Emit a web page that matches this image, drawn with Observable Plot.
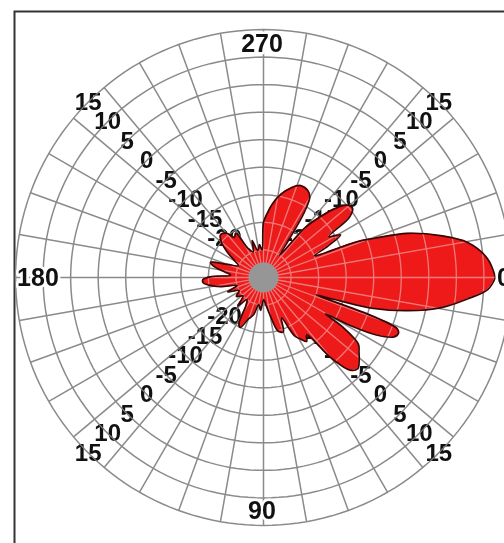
<!DOCTYPE html>
<html><head><meta charset="utf-8">
<script src="https://cdn.jsdelivr.net/npm/d3@7"></script>
<script src="https://cdn.jsdelivr.net/npm/@observablehq/plot@0.6"></script>
<style>
html,body{margin:0;padding:0;background:#fff;overflow:hidden;}
#chart svg{overflow:hidden !important;}
</style></head><body><div id="chart"></div>
<script>
// ---- data ----
const ringLevels = [-25, -20, -15, -10, -5, 0, 5, 10, 15];      // dB grid rings
const labelLevels = [-20, -15, -10, -5, 0, 5, 10, 15];          // dB tick labels
const labelText = ["-20", "-15", "-10", "-5", "0", "5", "10", "15"];
const labelAngles = [45, 135, 225, 315];                        // diagonals carrying dB labels
const spokeAngles = d3.range(0, 360, 10);                       // angular grid, every 10°
const cardinalAngles = [0, 90, 180, 270];
const cardinalText = ["0", "90", "180", "270"];
const floorDb = -30;                                            // dB at the centre
const outerDb = 15;

// radiation pattern (angle in degrees, clockwise from east; gain in dB)
const patternAngles = [0, 3, 6, 9.6, 12.9, 15.7, 17, 18.2, 19.5, 21, 22.5, 24.5, 27, 29, 30.5, 32, 35, 38, 41, 44, 47, 50, 53, 56, 59, 62, 66, 70, 75, 80, 85, 90, 95, 100, 105, 110, 115, 118, 122, 127, 132, 138, 145, 152, 158, 163, 168, 172, 175, 178, 181, 184, 188, 192, 196, 200, 205, 210, 215, 220, 225, 230, 234, 238, 242, 248, 253, 258, 263, 267, 270, 273, 277, 282, 287, 292, 297, 300, 302, 304, 306, 310, 313, 316, 319, 322, 325, 328, 331, 334, 337, 339, 340.5, 343, 346.7, 350.3, 355.2, 360];
const patternDb = [12.1, 10.8, 7.2, 2.7, -3.1, -9.3, -15.5, -20, -9, -4, -3.5, -4, -7, -12, -17, -13, -9, -8, -7, -6.2, -7, -11, -17, -16, -17, -18, -22, -19.5, -20, -23, -25, -26, -24, -25, -23, -22, -20, -20.5, -24, -25, -23, -25, -24, -25, -23, -25, -22, -20, -19, -19, -20.5, -24, -23, -21, -20, -23, -25, -24, -22, -20, -19, -19.5, -21, -20.5, -24, -25, -23, -25, -24, -25, -20, -18.5, -16.5, -14.5, -13, -12, -12.3, -13.2, -16, -22, -25, -18, -15, -12, -10, -9.5, -11, -16, -14, -17, -20, -12, -8.8, -2.6, 3.0, 7.6, 10.8, 12.1];

// ---- geometry helpers ----
const W = 504, H = 543, CX = 263, CY = 277, K = 5.51; // px per dB
const rad = a => a * Math.PI / 180;
const u = db => db - floorDb;
const px = (db, a) => u(db) * Math.cos(rad(a));
const py = (db, a) => u(db) * Math.sin(rad(a));

const rings = ringLevels.flatMap(L => d3.range(0, 361, 2).map(a => ({L, a})));
const pattern = patternAngles.map((a, i) => ({a, db: patternDb[i]}));
const labels = labelAngles.flatMap(a => labelLevels.map((L, i) => ({a, L, t: labelText[i]})));
const cards = cardinalAngles.map((a, i) => ({a, t: cardinalText[i]}));

const gridStroke = "#8a8a8a";
const font = "'Liberation Sans', Arial, sans-serif";

const plot = Plot.plot({
  width: W, height: H,
  marginLeft: 14, marginTop: 11, marginRight: -10, marginBottom: -10,
  x: {domain: [-CX / K, (W - CX) / K], range: [0, W], axis: null},
  y: {domain: [-CY / K, (H - CY) / K], range: [0, H], axis: null},
  style: {background: "white", overflow: "hidden"},
  marks: [
    Plot.frame({stroke: "#333", strokeWidth: 2}),
    Plot.line(rings, {x: d => px(d.L, d.a), y: d => py(d.L, d.a), z: "L", stroke: gridStroke, strokeWidth: 1.5}),
    Plot.link(spokeAngles, {x1: 0, y1: 0, x2: a => px(outerDb, a), y2: a => py(outerDb, a), stroke: gridStroke, strokeWidth: 1.5}),
    Plot.text(labels, {x: d => px(d.L, d.a), y: d => py(d.L, d.a), text: "t", fontSize: 24, fontWeight: "bold", fontFamily: font, fill: "#111"}),
    Plot.area(pattern, {x1: d => px(d.db, d.a), y1: d => py(d.db, d.a), x2: 0, y2: 0, fill: "#ee1a1a", curve: "catmull-rom"}),
    Plot.line(rings, {x: d => px(d.L, d.a), y: d => py(d.L, d.a), z: "L", stroke: "#7a7a7a", strokeWidth: 1.3, mixBlendMode: "lighten"}),
    Plot.link(spokeAngles, {x1: 0, y1: 0, x2: a => px(outerDb, a), y2: a => py(outerDb, a), stroke: "#7a7a7a", strokeWidth: 1.3, mixBlendMode: "lighten"}),
    Plot.line(pattern, {x: d => px(d.db, d.a), y: d => py(d.db, d.a), stroke: "#3a0505", strokeWidth: 1.7, curve: "catmull-rom"}),
    Plot.dot([0], {x: 0, y: 0, r: 15, fill: "#969696", stroke: "none"}),
    Plot.text(cards.filter(d => d.a % 180 === 0), {x: d => px(12.3, d.a), y: d => py(12.3, d.a), text: "t", dx: 7.5, fontSize: 25, fontWeight: "bold", fontFamily: font, fill: "#111", stroke: "white", strokeWidth: 5}),
    Plot.text(cards.filter(d => d.a % 180 !== 0), {x: d => px(12.3, d.a), y: d => py(12.3, d.a), text: "t", dx: -1.5, fontSize: 25, fontWeight: "bold", fontFamily: font, fill: "#111", stroke: "white", strokeWidth: 5})
  ]
});
document.getElementById("chart").appendChild(plot);
</script></body></html>
